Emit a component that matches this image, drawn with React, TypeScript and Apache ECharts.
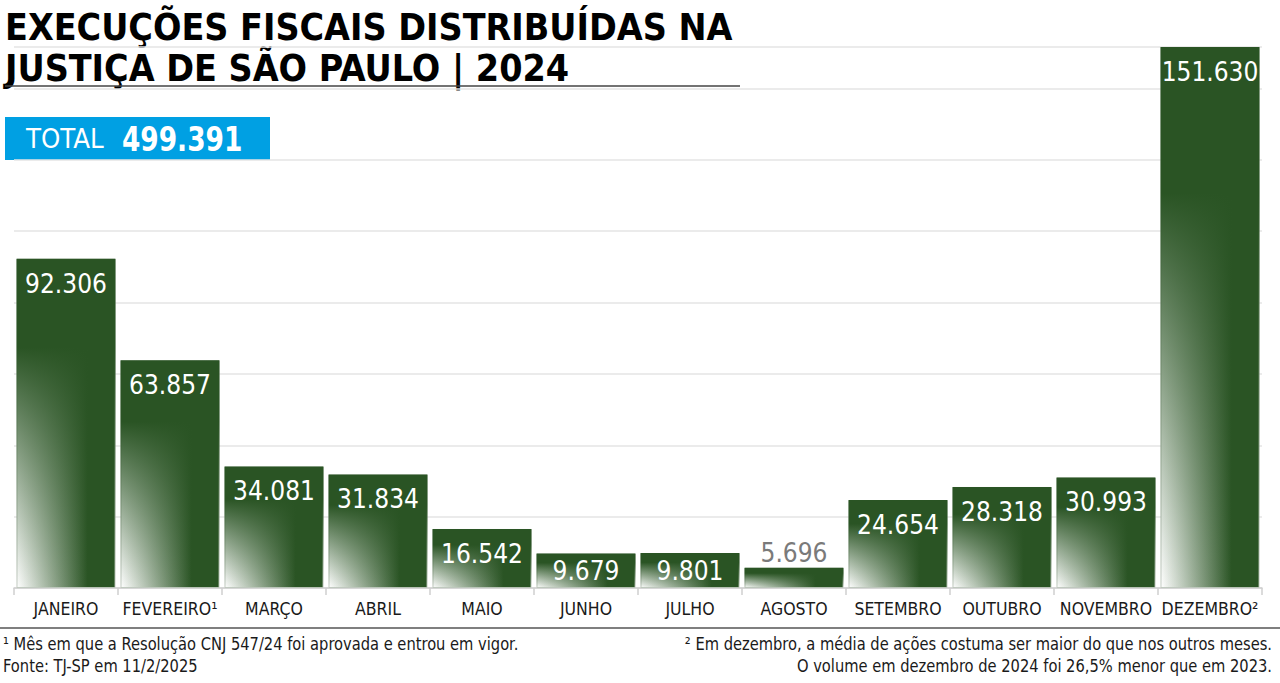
import React, { useEffect, useRef } from "react";
import * as echarts from "echarts";

const months = ["JANEIRO", "FEVEREIRO¹", "MARÇO", "ABRIL", "MAIO", "JUNHO", "JULHO", "AGOSTO", "SETEMBRO", "OUTUBRO", "NOVEMBRO", "DEZEMBRO²"];
const values = [92306, 63857, 34081, 31834, 16542, 9679, 9801, 5696, 24654, 28318, 30993, 151630];
const totalLabel = "499.391";
const titleLines = ["EXECUÇÕES FISCAIS DISTRIBUÍDAS NA", "JUSTIÇA DE SÃO PAULO | 2024"];
const noteLeft = ["¹ Mês em que a Resolução CNJ 547/24 foi aprovada e entrou em vigor.", "Fonte: TJ-SP em 11/2/2025"];
const noteRight = ["² Em dezembro, a média de ações costuma ser maior do que nos outros meses.", "O volume em dezembro de 2024 foi 26,5% menor que em 2023."];

const NARROW = '"DejaVu Sans Condensed", "Liberation Sans Narrow", sans-serif';
const DARK = "#2a5424";

const fmt = (v: number) => v.toLocaleString("pt-BR");

export default function App() {
  const ref = useRef<HTMLDivElement>(null);
  useEffect(() => {
    if (!ref.current) return;
    const chart = echarts.init(ref.current, undefined, { renderer: "svg" });
    const base = new echarts.graphic.LinearGradient(0, 0, 1, 0, [
      { offset: 0, color: "#ffffff" },
      { offset: 0.72, color: DARK },
      { offset: 1, color: DARK },
    ]);
    const overlay = new echarts.graphic.LinearGradient(0, 0, 0, 1, [
      { offset: 0, color: "rgba(42,84,36,1)" },
      { offset: 0.27, color: "rgba(42,84,36,1)" },
      { offset: 1, color: "rgba(42,84,36,0)" },
    ]);
    const txt = (x: number, y: number, text: string, size: number, opts: any = {}) => ({
      type: "text",
      x,
      y,
      scaleX: opts.scaleX ?? 1,
      style: {
        x: 0,
        y: 0,
        text,
        fontFamily: NARROW,
        fontSize: size,
        fontWeight: opts.bold ? "bold" : "normal",
        fill: opts.fill ?? "#1a1a1a",
        align: opts.align ?? "left",
        verticalAlign: "top",
        lineHeight: size,
      },
    });
    chart.setOption({
      animation: false,
      grid: { left: 14, right: 18, top: 47, bottom: 683 - 588, containLabel: false },
      xAxis: {
        type: "category",
        data: months,
        axisLine: { lineStyle: { color: "#cfcfcf", width: 1.5 } },
        axisTick: { show: true, length: 7, lineStyle: { color: "#cfcfcf", width: 1.5 } },
        axisLabel: { interval: 0, color: "#1a1a1a", fontFamily: NARROW, fontSize: 17.5, margin: 12 },
      },
      yAxis: {
        type: "value",
        min: 0,
        max: 151630,
        interval: 20000,
        axisLabel: { show: false },
        axisLine: { show: false },
        axisTick: { show: false },
        splitLine: { lineStyle: { color: "#e4e4e4", width: 1.5 } },
      },
      series: [
        {
          type: "bar",
          data: values,
          barCategoryGap: "4.8%",
          itemStyle: { color: base, borderColor: "rgba(190,200,188,0.9)", borderWidth: 1 },
          silent: true,
        },
        {
          type: "bar",
          barGap: "-100%",
          barCategoryGap: "4.8%",
          data: values.map((v, i) =>
            i === 7
              ? { value: v, label: { position: "top", color: "#7a7a7a", distance: 2 } }
              : v < 12000
              ? { value: v, label: { distance: 5 } }
              : { value: v }
          ),
          itemStyle: { color: overlay },
          label: {
            show: true,
            position: "insideTop",
            distance: 12,
            color: "#ffffff",
            fontFamily: NARROW,
            fontSize: 26,
            lineHeight: 26,
            formatter: (p: any) => fmt(p.value),
          },
        },
      ],
      graphic: [
        txt(5, 8, titleLines[0], 38, { bold: true, scaleX: 0.98, fill: "#000" }),
        txt(5, 49, titleLines[1], 38, { bold: true, scaleX: 0.98, fill: "#000" }),
        { type: "line", shape: { x1: 5, y1: 86, x2: 740, y2: 86 }, style: { stroke: "#444", lineWidth: 1.5 } },
        { type: "rect", shape: { x: 5, y: 117, width: 265, height: 43 }, style: { fill: "#00a0e3" } },
        txt(26, 126, "TOTAL", 26, { fill: "#fff", scaleX: 1.05 }),
        txt(122, 123, totalLabel, 33, { bold: true, fill: "#fff", scaleX: 0.89 }),
        { type: "line", shape: { x1: 0, y1: 628, x2: 1280, y2: 628 }, style: { stroke: "#555", lineWidth: 1.5 } },
        txt(3, 636, noteLeft[0], 17, { scaleX: 0.96 }),
        txt(3, 658, noteLeft[1], 17, { scaleX: 0.96 }),
        txt(1272, 636, noteRight[0], 17, { scaleX: 0.96, align: "right" }),
        txt(1272, 658, noteRight[1], 17, { scaleX: 0.96, align: "right" }),
      ],
    });
    return () => chart.dispose();
  }, []);
  return <div ref={ref} style={{ width: 1280, height: 683, position: "absolute", left: 0, top: 0, background: "#fff" }} />;
}
